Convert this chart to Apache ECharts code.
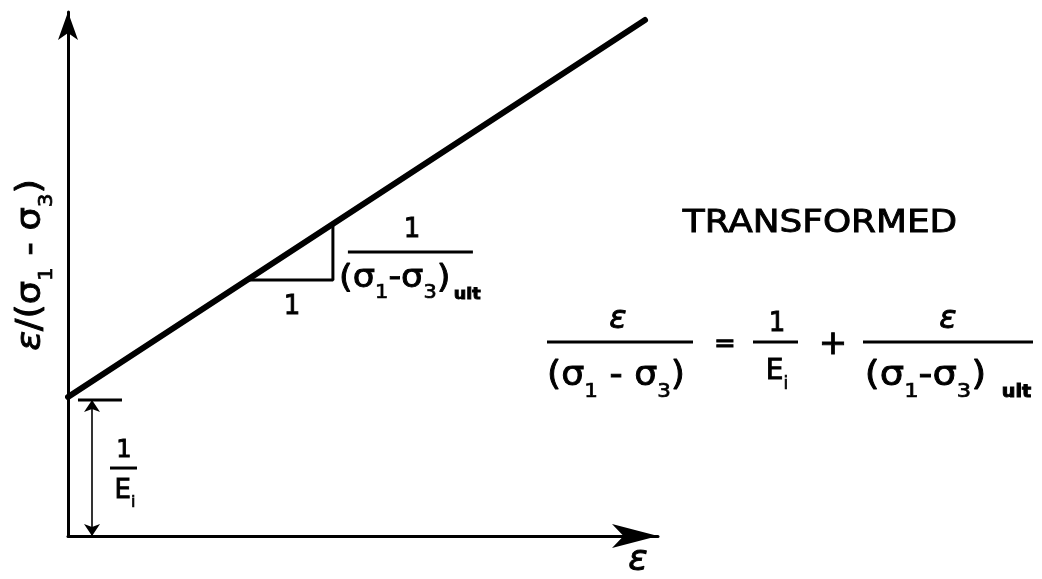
<!DOCTYPE html>
<html>
<head>
<meta charset="utf-8">
<script src="https://cdn.jsdelivr.net/npm/echarts@6/dist/echarts.min.js"></script>
<style>
  html, body { margin: 0; padding: 0; background: #fff; }
  #chart { width: 1042px; height: 579px; }
</style>
</head>
<body>
<div id="chart"></div>
<script>
// Transformed hyperbolic stress–strain plot: ε/(σ1-σ3) against ε is a straight line
// with intercept 1/Ei and slope 1/(σ1-σ3)ult. Axis units are arbitrary (0–100).
const strainEnds = [0, 97.8];          // ε at the two ends of the fitted line
const ratioEnds = [26.53, 98.47];      // ε/(σ1-σ3) at the two ends
const slopeRun = [30.34, 44.9];        // ε span of the unit-slope triangle
const slopeRise = [48.85, 59.56];      // ε/(σ1-σ3) span of the triangle
const interceptTickSpan = [1.69, 9.15];// ε span of the 1/Ei reference tick
const interceptLevel = 25.95;          // level of the 1/Ei reference tick
const dimensionStrain = 4.07;          // ε position of the 1/Ei dimension arrow

const FONT = '"DejaVu Sans", "Liberation Sans", sans-serif';
const chart = echarts.init(document.getElementById('chart'), null, { renderer: 'canvas' });

const axisCommon = {
  type: 'value', min: 0, max: 100,
  splitLine: { show: false }, axisTick: { show: false }, axisLabel: { show: false }
};

chart.setOption({
  animation: false,
  backgroundColor: '#fff',
  grid: { left: 68, top: 12, right: 384, bottom: 43 },
  xAxis: Object.assign({}, axisCommon, {
    axisLine: { show: true, symbol: ['none', 'arrow'], symbolSize: [18, 46],
      lineStyle: { color: '#000', width: 3 } }
  }),
  yAxis: Object.assign({}, axisCommon, {
    axisLine: { show: true, symbol: ['none', 'arrow'], symbolSize: [15, 28],
      lineStyle: { color: '#000', width: 3 } }
  }),
  series: [
    {
      type: 'line', symbol: 'none', silent: true,
      data: strainEnds.map((e, i) => [e, ratioEnds[i]]),
      lineStyle: { color: '#000', width: 6, cap: 'round' }
    },
    {
      type: 'line', symbol: 'none', silent: true,
      data: [[slopeRun[0], slopeRise[0]], [slopeRun[1], slopeRise[0]], [slopeRun[1], slopeRise[1]]],
      lineStyle: { color: '#000', width: 3 }
    },
    {
      type: 'line', symbol: 'none', silent: true,
      data: interceptTickSpan.map(e => [e, interceptLevel]),
      lineStyle: { color: '#000', width: 3 },
      markLine: {
        silent: true, symbol: ['arrow', 'arrow'], symbolSize: 12,
        label: { show: false },
        lineStyle: { color: '#000', width: 1.6, type: 'solid' },
        data: [[{ coord: [dimensionStrain, interceptLevel] }, { coord: [dimensionStrain, 0] }]]
      }
    }
  ]
});

// ---- annotation text -------------------------------------------------------
function rich(size) {
  const sub = Math.round(size * 0.6), ult = Math.round(size * 0.5);
  return {
    s: { fontSize: sub, fontFamily: FONT, lineHeight: sub, verticalAlign: 'bottom',
         fill: '#000', stroke: '#000', lineWidth: 0.7 },
    u: { fontSize: ult, fontFamily: FONT, fontWeight: 'bold', lineHeight: ult, verticalAlign: 'bottom',
         fill: '#000', padding: [0, 0, 0, 3] },
    e: { fontSize: size, fontFamily: FONT, fontStyle: 'italic', lineHeight: Math.round(size * 1.5),
         fill: '#000', stroke: '#000', lineWidth: 0.9 }
  };
}
function txt(x, y, text, size, extra) {
  return Object.assign({
    type: 'text', x: x, y: y, silent: true,
    style: {
      text: text, fill: '#000', stroke: '#000', lineWidth: 0.9,
      fontSize: size, fontFamily: FONT, lineHeight: Math.round(size * 1.5),
      align: 'center', verticalAlign: 'middle', rich: rich(size)
    }
  }, extra || {});
}
function bar(x1, x2, y, w) {
  return { type: 'line', silent: true, shape: { x1: x1, y1: y, x2: x2, y2: y },
    style: { stroke: '#000', lineWidth: w || 3 } };
}

const px = (e, r) => chart.convertToPixel({ gridIndex: 0 }, [e, r]);
const tickEnd = px(interceptTickSpan[1], interceptLevel);     // right end of the 1/Ei tick
const runMid = px((slopeRun[0] + slopeRun[1]) / 2, slopeRise[0]);
const riseTop = px(slopeRun[1], slopeRise[1]);
const riseBase = px(slopeRun[1], slopeRise[0]);

const graphics = [
  // axis titles
  txt(31, 265, '{e|ε}/(σ{s|1} - σ{s|3})', 34, { rotation: Math.PI / 2, scaleX: 1.08 }),
  txt(638, 561, '{e|ε}', 36),
  // 1/Ei label beside the dimension arrow
  txt(tickEnd[0] + 2, tickEnd[1] + 51, '1', 24),
  bar(tickEnd[0] - 12, tickEnd[0] + 15, tickEnd[1] + 68, 3),
  txt(tickEnd[0] + 3, tickEnd[1] + 91, 'E{s|i}', 26),
  // slope triangle labels
  txt(runMid[0] + 2, runMid[1] + 27, '1', 26),
  txt(riseTop[0] + 79, riseTop[1] + 6, '1', 26),
  bar(riseBase[0] + 15, riseBase[0] + 140, riseTop[1] + 28, 3),
  txt(riseBase[0] + 77, riseTop[1] + 55, '(σ{s|1}-σ{s|3}){u|ult}', 32, { scaleX: 1.1 }),
  // heading and equation
  txt(820, 224, 'TRANSFORMED', 32, { scaleX: 1.12 }),
  txt(618, 320, '{e|ε}', 32),
  bar(547, 693, 342, 3),
  txt(616, 376, '(σ{s|1} - σ{s|3})', 34, { scaleX: 1.07 }),
  txt(725, 345, '=', 26),
  txt(777, 324, '1', 26),
  bar(753, 798, 342, 3),
  txt(777, 372, 'E{s|i}', 28),
  txt(833, 345, '+', 34),
  txt(948, 320, '{e|ε}', 32),
  bar(863, 1033, 342, 3),
  txt(948, 376, '(σ{s|1}-σ{s|3}) {u|ult}', 34, { scaleX: 1.13 })
];

chart.setOption({ graphic: graphics });
</script>
</body>
</html>
